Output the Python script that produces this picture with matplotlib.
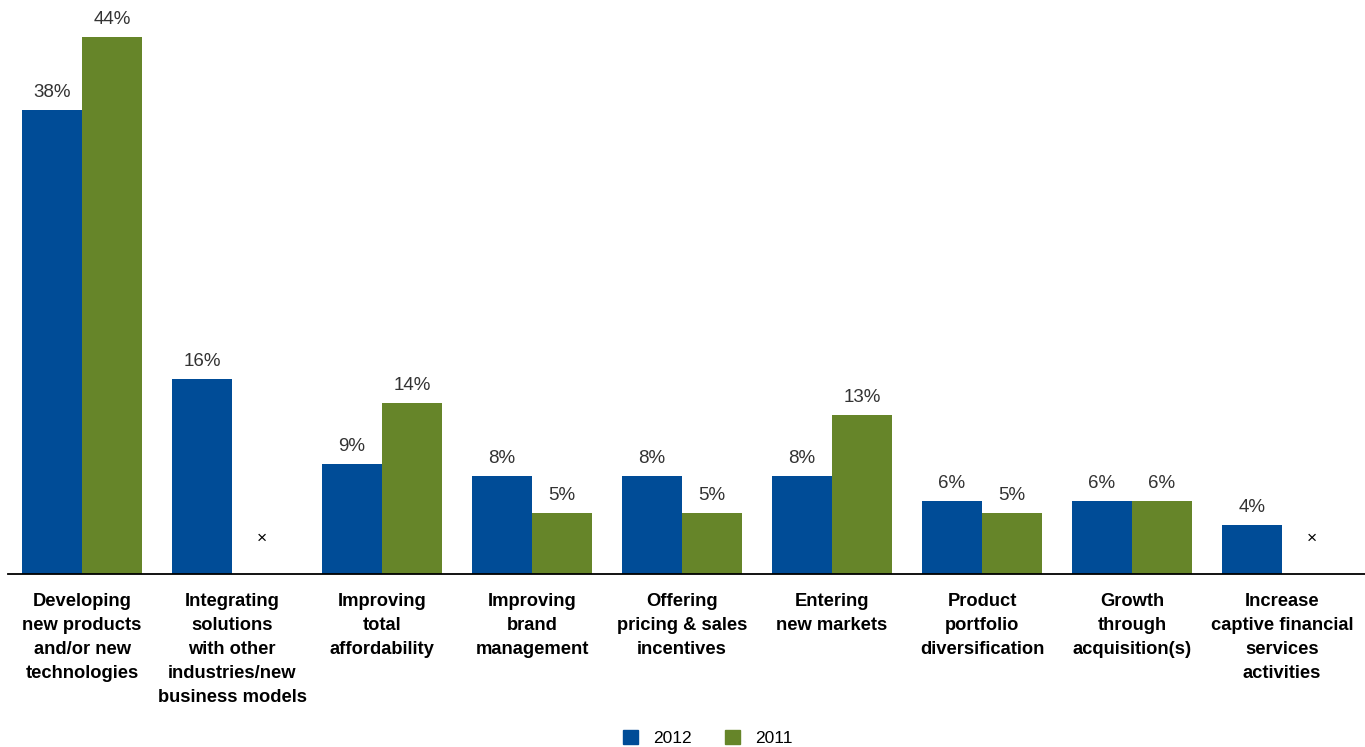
import numpy as np
import matplotlib.pyplot as plt
from matplotlib.patches import Patch

plt.rcParams['font.family'] = ['Liberation Sans', 'DejaVu Sans']

categories = [
    "Developing\nnew products\nand/or new\ntechnologies",
    "Integrating\nsolutions\nwith other\nindustries/new\nbusiness models",
    "Improving\ntotal\naffordability",
    "Improving\nbrand\nmanagement",
    "Offering\npricing & sales\nincentives",
    "Entering\nnew markets",
    "Product\nportfolio\ndiversification",
    "Growth\nthrough\nacquisition(s)",
    "Increase\ncaptive financial\nservices\nactivities",
]
values_2012 = [38, 16, 9, 8, 8, 8, 6, 6, 4]
values_2011 = [44, None, 14, 5, 5, 13, 5, 6, None]

blue = "#004C97"
green = "#668529"
text_col = "#333333"

fig = plt.figure(figsize=(13.65, 7.47), dpi=100)
ax = fig.add_axes([8 / 1365, 173 / 747, 1 - 8 / 1365, 1 - 173 / 747])

x = np.arange(len(categories))
w = 0.4

for i in x:
    v = values_2012[i]
    ax.bar(i - w / 2, v, w, color=blue)
    ax.text(i - w / 2, v + 0.75, f"{v}%", ha="center", va="bottom",
            fontsize=13.5, color=text_col)
    v = values_2011[i]
    if v is None:
        ax.text(i + w / 2, 2.95, "×", ha="center", va="center",
                fontsize=12.5, color="black")
    else:
        ax.bar(i + w / 2, v, w, color=green)
        ax.text(i + w / 2, v + 0.75, f"{v}%", ha="center", va="bottom",
                fontsize=13.5, color=text_col)

ax.set_xlim((8 - 82) / 150, (1365 - 82) / 150)
ax.set_ylim(0, 574 / 12.2)

ax.set_xticks(x)
ax.set_xticklabels(categories, fontsize=13.2, fontweight="bold",
                   linespacing=1.53, color="black")
ax.tick_params(axis="x", length=0, pad=14)
ax.set_yticks([])
for s in ["top", "right", "left"]:
    ax.spines[s].set_visible(False)
ax.spines["bottom"].set_linewidth(1.3)
ax.spines["bottom"].set_color("black")

handles = [Patch(color=blue, label="2012"), Patch(color=green, label="2011")]
fig.legend(handles=handles, loc="center", bbox_to_anchor=(0.5187, 1 - 738 / 747),
           ncol=2, frameon=False, fontsize=12.5, handlelength=0.85,
           handleheight=0.85, columnspacing=1.9, handletextpad=0.9,
           borderpad=0)

fig.savefig("out.png", dpi=100)
